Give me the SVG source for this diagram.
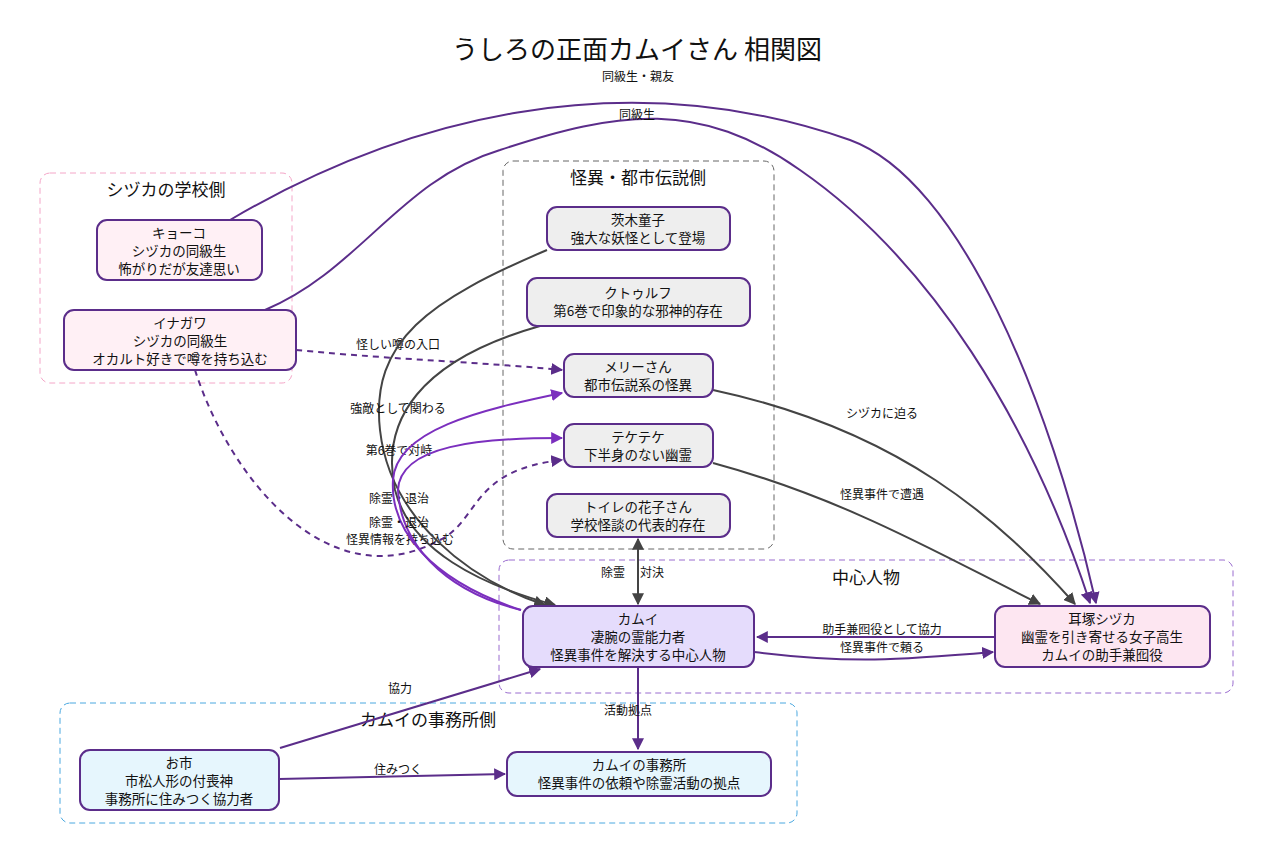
<svg xmlns="http://www.w3.org/2000/svg" width="1273" height="864" viewBox="0 0 1273 864">
<style>
text{font-family:"Noto Sans CJK JP","Noto Sans",sans-serif;fill:#111;text-anchor:middle}
.n{stroke:#5b2d8a;stroke-width:2}
.t{font-size:13.5px}
.l{font-size:12px}
.c{font-size:17px}
.e{fill:none;stroke-width:2}
.g{stroke:#444}
.p{stroke:#5b2d8a}
.v{stroke:#7b2fbe}
.d{stroke-dasharray:6 5}
</style>
<defs>
<marker id="ag" viewBox="0 0 10 10" refX="9" refY="5" markerWidth="6" markerHeight="6" orient="auto-start-reverse"><path d="M0,0L10,5L0,10z" fill="#444"/></marker>
<marker id="ap" viewBox="0 0 10 10" refX="9" refY="5" markerWidth="6" markerHeight="6" orient="auto-start-reverse"><path d="M0,0L10,5L0,10z" fill="#5b2d8a"/></marker>
<marker id="av" viewBox="0 0 10 10" refX="9" refY="5" markerWidth="6" markerHeight="6" orient="auto-start-reverse"><path d="M0,0L10,5L0,10z" fill="#7b2fbe"/></marker>
</defs>
<rect width="1273" height="864" fill="#fff"/>
<text x="637" y="59" style="font-size:26px">うしろの正面カムイさん 相関図</text>
<g id="clusters" fill="none" stroke-dasharray="6 4">
<rect x="40" y="173" width="252" height="210" rx="10" stroke="#f4a6c8"/>
<rect x="503" y="161" width="271" height="388" rx="10" stroke="#666"/>
<rect x="499" y="560" width="734" height="133" rx="10" stroke="#9a6ccf"/>
<rect x="60" y="703" width="737" height="120" rx="10" stroke="#4aa8e0"/>
</g>
<text class="c" x="166" y="196">シヅカの学校側</text>
<text class="c" x="638" y="184">怪異・都市伝説側</text>
<text class="c" x="866" y="584">中心人物</text>
<text class="c" x="428" y="726">カムイの事務所側</text>
<g id="connectors">
<path class="e p" d="M230,220 C400,120 620,60 850,140 C960,180 1050,400 1096,603" marker-end="url(#ap)"/>
<text class="l" x="638" y="81">同級生・親友</text>
<path class="e p" d="M265,310 C360,270 400,180 500,150 C620,110 700,100 800,170 C930,260 1030,420 1090,603" marker-end="url(#ap)"/>
<text class="l" x="637" y="119">同級生</text>
<path class="e p d" d="M296,350 C400,360 480,362 562,370" marker-end="url(#ap)"/>
<text class="l" x="398" y="349">怪しい噂の入口</text>
<path class="e p d" d="M195,370 C230,480 330,600 440,540 C480,520 470,470 562,460" marker-end="url(#ap)"/>
<text class="l" x="400" y="544">怪異情報を持ち込む</text>
<path class="e g" d="M547,250 C430,300 370,340 380,430 C390,520 470,580 545,605" marker-end="url(#ag)"/>
<text class="l" x="398" y="413">強敵として関わる</text>
<path class="e g" d="M540,326 C420,360 380,420 395,490 C410,550 480,585 555,605" marker-end="url(#ag)"/>
<text class="l" x="399" y="455">第6巻で対峙</text>
<path class="e v" d="M521,610 C430,580 390,530 393,480 C396,430 480,410 562,393" marker-end="url(#av)"/>
<text class="l" x="399" y="503">除霊・退治</text>
<path class="e v" d="M521,610 C440,590 400,540 398,490 C400,445 480,438 562,438" marker-end="url(#av)"/>
<text class="l" x="399" y="527">除霊・退治</text>
<path class="e g" d="M713,390 C900,430 1000,520 1075,604" marker-end="url(#ag)"/>
<text class="l" x="882" y="418">シヅカに迫る</text>
<path class="e g" d="M713,463 C850,500 950,560 1040,604" marker-end="url(#ag)"/>
<text class="l" x="882" y="499">怪異事件で遭遇</text>
<path class="e g" d="M638,539 L638,604" marker-start="url(#ag)" marker-end="url(#ag)"/>
<text class="l" x="613" y="577">除霊</text>
<text class="l" x="652" y="577">対決</text>
<path class="e p" d="M995,637 L757,637" marker-end="url(#ap)"/>
<text class="l" x="882" y="634">助手兼囮役として協力</text>
<path class="e p" d="M754,652 C850,664 900,660 993,652" marker-end="url(#ap)"/>
<text class="l" x="882" y="652">怪異事件で頼る</text>
<path class="e p" d="M638,667 L638,749" marker-end="url(#ap)"/>
<text class="l" x="628" y="715">活動拠点</text>
<path class="e p" d="M280,748 L540,669" marker-end="url(#ap)"/>
<text class="l" x="400" y="693">協力</text>
<path class="e p" d="M279,779 L505,774" marker-end="url(#ap)"/>
<text class="l" x="398" y="774">住みつく</text>
</g>
<g id="kyoko"><rect class="n" x="97" y="220" width="165" height="60" rx="10" fill="#fff0f5"/><text class="t" x="179" y="238">キョーコ</text><text class="t" x="179" y="256">シヅカの同級生</text><text class="t" x="179" y="274">怖がりだが友達思い</text></g>
<g id="inagawa"><rect class="n" x="64" y="310" width="232" height="60" rx="10" fill="#fff0f5"/><text class="t" x="180" y="328">イナガワ</text><text class="t" x="180" y="346">シヅカの同級生</text><text class="t" x="180" y="364">オカルト好きで噂を持ち込む</text></g>
<g id="ibaraki"><rect class="n" x="547" y="207" width="183" height="43" rx="10" fill="#eeeeee"/><text class="t" x="638" y="225">茨木童子</text><text class="t" x="638" y="243">強大な妖怪として登場</text></g>
<g id="cthulhu"><rect class="n" x="527" y="278" width="223" height="48" rx="10" fill="#eeeeee"/><text class="t" x="638" y="298">クトゥルフ</text><text class="t" x="638" y="316">第6巻で印象的な邪神的存在</text></g>
<g id="mary"><rect class="n" x="564" y="354" width="149" height="43" rx="10" fill="#eeeeee"/><text class="t" x="638" y="372">メリーさん</text><text class="t" x="638" y="390">都市伝説系の怪異</text></g>
<g id="teketeke"><rect class="n" x="564" y="424" width="149" height="43" rx="10" fill="#eeeeee"/><text class="t" x="638" y="442">テケテケ</text><text class="t" x="638" y="460">下半身のない幽霊</text></g>
<g id="hanako"><rect class="n" x="547" y="494" width="183" height="43" rx="10" fill="#eeeeee"/><text class="t" x="638" y="512">トイレの花子さん</text><text class="t" x="638" y="530">学校怪談の代表的存在</text></g>
<g id="kamui"><rect class="n" x="523" y="606" width="231" height="61" rx="10" fill="#e5dcfc"/><text class="t" x="638" y="624">カムイ</text><text class="t" x="638" y="642">凄腕の霊能力者</text><text class="t" x="638" y="660">怪異事件を解決する中心人物</text></g>
<g id="shizuka"><rect class="n" x="995" y="606" width="215" height="61" rx="10" fill="#fde6f1"/><text class="t" x="1102" y="624">耳塚シヅカ</text><text class="t" x="1102" y="642">幽霊を引き寄せる女子高生</text><text class="t" x="1102" y="660">カムイの助手兼囮役</text></g>
<g id="oichi"><rect class="n" x="80" y="750" width="199" height="60" rx="10" fill="#e6f6fd"/><text class="t" x="179" y="768">お市</text><text class="t" x="179" y="786">市松人形の付喪神</text><text class="t" x="179" y="804">事務所に住みつく協力者</text></g>
<g id="office"><rect class="n" x="507" y="752" width="264" height="44" rx="10" fill="#e6f6fd"/><text class="t" x="639" y="770">カムイの事務所</text><text class="t" x="639" y="788">怪異事件の依頼や除霊活動の拠点</text></g>
</svg>
